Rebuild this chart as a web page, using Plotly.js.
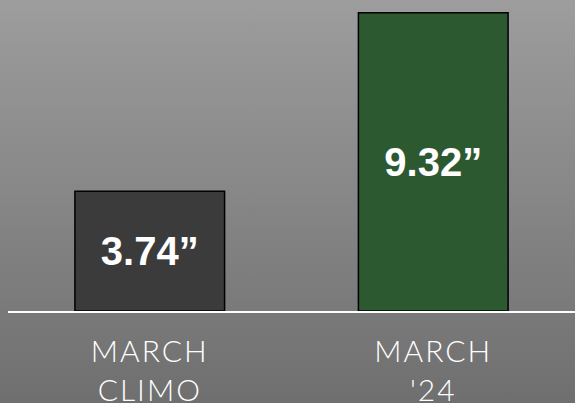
<!DOCTYPE html>
<html>
<head>
<meta charset="utf-8">
<script src="https://cdn.plot.ly/plotly-3.0.1.min.js"></script>
<style>
  html, body { margin: 0; padding: 0; }
  body { width: 575px; height: 403px; overflow: hidden;
         background: linear-gradient(to bottom, #9d9d9d 0%, #6f6f6f 100%); }
  #chart { width: 575px; height: 403px; }
  .xtick text { letter-spacing: 2px; }
</style>
</head>
<body>
<div id="chart"></div>
<script>
const categories = ["MARCH<br>CLIMO", "MARCH<br>'24"];
const values = [3.74, 9.32];
const valueLabels = ["3.74\u201D", "9.32\u201D"];
const barColors = ["#3b3b3b", "#2d5931"];

const trace = {
  type: "bar",
  x: categories,
  y: values,
  text: valueLabels,
  textposition: "inside",
  insidetextanchor: "middle",
  constraintext: "none",
  textfont: { family: "Liberation Sans, Arial, sans-serif", size: 40, color: "#ffffff", weight: 700 },
  marker: { color: barColors, line: { color: "#000000", width: 1.5 } },
  hoverinfo: "none"
};

const layout = {
  width: 575, height: 403,
  margin: { l: 8, r: 0, t: 0, b: 92 },
  paper_bgcolor: "rgba(0,0,0,0)",
  plot_bgcolor: "rgba(0,0,0,0)",
  bargap: 0.472,
  showlegend: false,
  xaxis: {
    type: "category",
    range: [-0.5, 1.5],
    showline: true, linecolor: "#ffffff", linewidth: 2,
    showgrid: false, zeroline: false, ticks: "",
    ticklabelstandoff: 13,
    tickfont: { family: "Lato, 'Open Sans', sans-serif", size: 30, color: "#ffffff", weight: 300 }
  },
  yaxis: {
    range: [0, 9.719],
    visible: false, showgrid: false, zeroline: false
  }
};

Plotly.newPlot("chart", [trace], layout, { staticPlot: true, displayModeBar: false });
</script>
</body>
</html>
